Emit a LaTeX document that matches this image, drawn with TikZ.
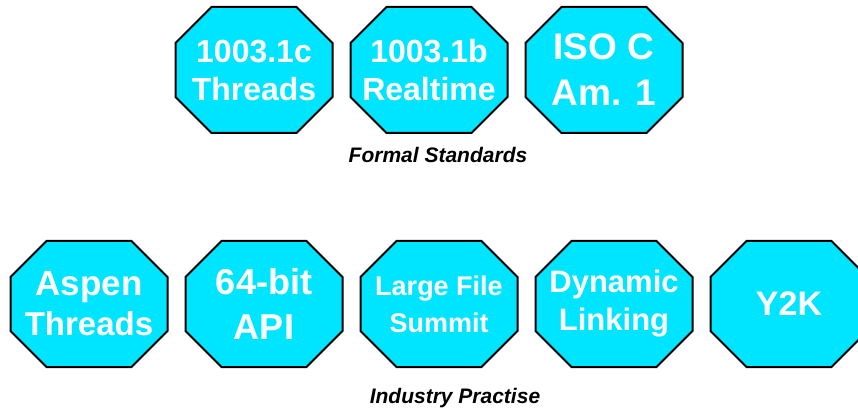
\documentclass[tikz,border=0pt]{standalone}
\usepackage{fontspec}
\setmainfont{Liberation Sans}
\definecolor{signcyan}{RGB}{0,229,255}
\tikzset{
  octshape/.style={draw=black, line width=2pt, fill=signcyan, line join=miter},
  octtext/.style={text=white, font=\bfseries, align=center, inner sep=0pt},
  caption/.style={text=black, font=\bfseries\itshape\fontsize{21}{24}\selectfont, inner sep=0pt}
}
% #1 node name, #2 centre x, #3 centre y, #4 font size, #5 leading, #6 label
\newcommand\stopsign[6]{%
  \draw[octshape] (#2-78.5,#3-27) -- (#2-42.5,#3-63) -- (#2+42.5,#3-63) --
    (#2+78.5,#3-27) -- (#2+78.5,#3+27) -- (#2+42.5,#3+63) --
    (#2-42.5,#3+63) -- (#2-78.5,#3+27) -- cycle;
  \node[octtext, font=\bfseries\fontsize{#4}{#5}\selectfont] (#1) at (#2,#3) {#6};
}
\begin{document}
\begin{tikzpicture}[x=1pt, y=-1pt]
  \useasboundingbox (0,0) rectangle (858,411);
  \clip (0,0) rectangle (858,411);
  % formal standards
  \stopsign{threadsc}{254}{70}{32}{38}{1003.1c\\Threads}
  \stopsign{realtime}{429}{70}{32}{38}{1003.1b\\Realtime}
  \stopsign{isoc}{604}{70}{37}{46}{ISO C\\Am. 1}
  \node[caption] (formal) at (438,155) {Formal Standards};
  % industry practice
  \stopsign{aspen}{89}{304}{33}{40}{{\fontsize{35}{40}\selectfont Aspen}\\Threads}
  \stopsign{api}{264}{304}{36}{45}{64-bit\\API}
  \stopsign{lfs}{439}{304}{27}{37}{Large File\\Summit}
  \stopsign{dynamic}{614}{304}{31}{38}{Dynamic\\Linking}
  \stopsign{ytwok}{789}{304}{34}{40}{Y2K}
  \node[caption] (industry) at (455,398) {Industry Practise};
\end{tikzpicture}
\end{document}
